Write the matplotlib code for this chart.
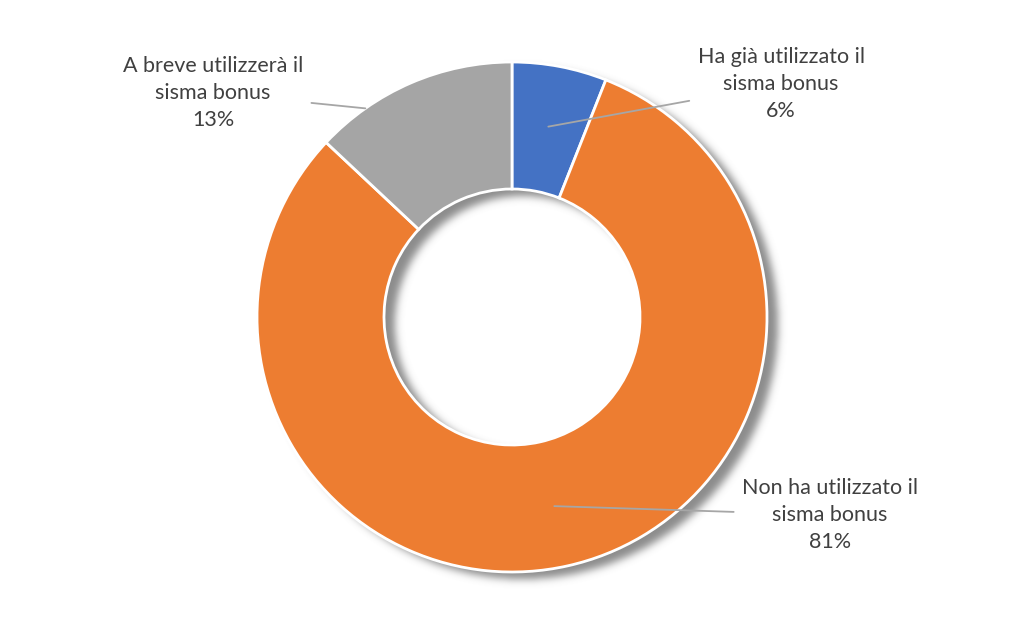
import numpy as np
import matplotlib
matplotlib.use('Agg')
import matplotlib.pyplot as plt

# Data
labels = ['Ha già utilizzato il\nsisma bonus', 'Non ha utilizzato il\nsisma bonus', 'A breve utilizzerà il\nsisma bonus']
values = [6, 81, 13]
colors = ['#4472C4', '#ED7D31', '#A5A5A5']

# label layout: text centre (px, data coords) and where along the wedge the leader ends
text_pos = [(781, 548), (830, 117), (213, 539)]
leader_frac = [(0.5, 0.76), (0.5, 0.76), (0.75, 1.0)]

W, H = 1024, 632
cx, cy = 512, 315
R = 255
ring_w = 127

fig = plt.figure(figsize=(W / 100, H / 100), dpi=100)
ax = fig.add_axes([0, 0, 1, 1])
ax.set_xlim(0, W)
ax.set_ylim(0, H)
ax.axis('off')

# Soft drop shadow of the ring
sdx, sdy, sigma = 11, 7, 4.0
xx, yy = np.meshgrid(np.arange(W) + 0.5, np.arange(H) + 0.5)
rr = np.hypot(xx - (cx + sdx), yy - (cy - sdy))
mask = ((rr <= R) & (rr >= R - ring_w)).astype(float)
k = np.arange(-int(3 * sigma), int(3 * sigma) + 1)
kern = np.exp(-k ** 2 / (2 * sigma ** 2))
kern /= kern.sum()
mask = np.apply_along_axis(lambda m: np.convolve(m, kern, mode='same'), 0, mask)
mask = np.apply_along_axis(lambda m: np.convolve(m, kern, mode='same'), 1, mask)
shadow = np.zeros((H, W, 4))
shadow[..., :3] = 0.5
shadow[..., 3] = mask * 0.9
ax.imshow(shadow, extent=(0, W, 0, H), origin='lower', zorder=0, interpolation='bilinear')

wedges, _ = ax.pie(values, colors=colors, radius=R, center=(cx, cy), startangle=90,
                   counterclock=False,
                   wedgeprops=dict(width=ring_w, edgecolor='white', linewidth=2))
for w in wedges:
    w.set_zorder(2)

ax.set_xlim(0, W)
ax.set_ylim(0, H)
ax.set_aspect('equal')

for w, lab, v, tp, (fa, fr) in zip(wedges, labels, values, text_pos, leader_frac):
    ang = np.deg2rad(w.theta1 + fa * (w.theta2 - w.theta1))
    rad = R * fr
    xy = (cx + rad * np.cos(ang), cy + rad * np.sin(ang))
    ax.annotate(f'{lab}\n{v}%', xy=xy, xytext=tp, ha='center', va='center',
                fontsize=15.5, family='Lato', color='#404040', linespacing=1.45,
                arrowprops=dict(arrowstyle='-', color='#A6A6A6', lw=1.3,
                                shrinkA=4, shrinkB=0),
                zorder=3)

fig.savefig('out.png', dpi=100, facecolor='white')
